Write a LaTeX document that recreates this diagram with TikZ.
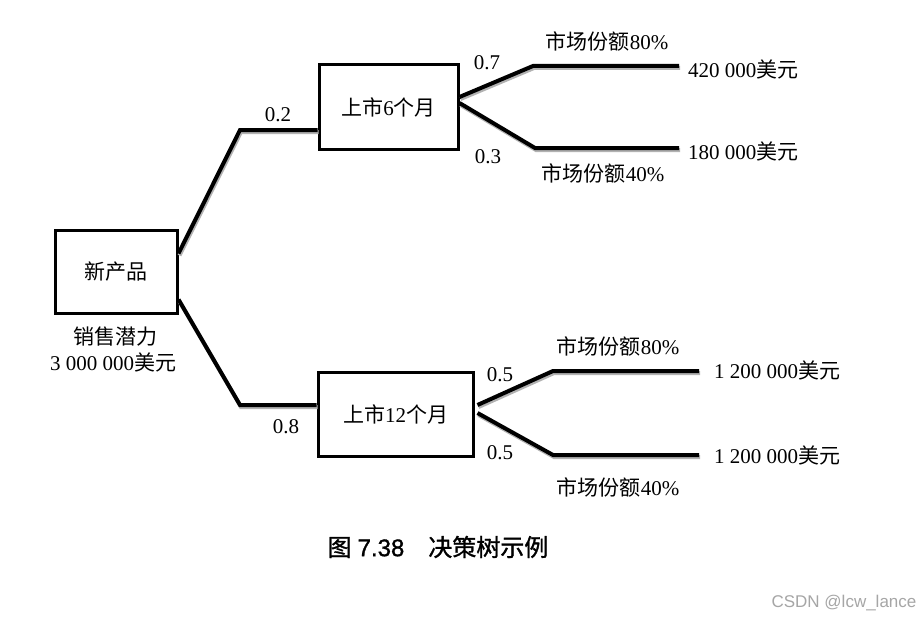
\documentclass[tikz,border=0pt]{standalone}
\usepackage{fontspec}
\setmainfont{Liberation Serif}
\newfontfamily\cjk{Noto Sans CJK SC}
\newfontfamily\cjkcap[FakeBold=1.2]{Noto Sans CJK SC}
\newfontfamily\capsans[FakeBold=1.2]{Liberation Sans}
\newfontfamily\wmsans{Liberation Sans}
\tikzset{
  box/.style={draw, line width=3pt, inner sep=0pt},
  conn/.style={line width=4pt, line join=miter},
  shade/.style={line width=4pt, draw=black!30, line join=miter},
  lbl/.style={inner sep=0pt, font=\fontsize{21}{24}\selectfont},
}
\begin{document}
\begin{tikzpicture}[x=1pt,y=-1pt]
\useasboundingbox[fill=white] (0,0) rectangle (919,618);
% boxes
\node[box, minimum width=122pt, minimum height=83pt, lbl] (n0) at (116,271.5) {\cjk 新产品};
\node[box, minimum width=139pt, minimum height=84pt, lbl] (n1) at (388.5,107) {{\cjk 上市}6{\cjk 个月}};
\node[box, minimum width=155pt, minimum height=84pt, lbl] (n2) at (395.5,414) {{\cjk 上市}12{\cjk 个月}};
% bends and ends
\coordinate (b1) at (240,130);
\coordinate (b2) at (240,405);
\coordinate (c1) at (533,66);
\coordinate (e1) at (679,66);
\coordinate (c2) at (535,148);
\coordinate (e2) at (679,148);
\coordinate (c3) at (553,371);
\coordinate (e3) at (699,371);
\coordinate (c4) at (553,455);
\coordinate (e4) at (699,455);
% shadows
\begin{scope}[transform canvas={xshift=1pt,yshift=-2pt}]
\draw[shade] ([yshift=18pt]n0.east) -- (b1) -- (n1.west |- b1);
\draw[shade] ([yshift=-28pt]n0.east) -- (b2) -- (n2.west |- b2);
\draw[shade] ([yshift=10pt]n1.east) -- (c1) -- (e1);
\draw[shade] ([yshift=4pt]n1.east) -- (c2) -- (e2);
\draw[shade] ([xshift=3pt,yshift=9pt]n2.east) -- (c3) -- (e3);
\draw[shade] ([xshift=3pt,yshift=1pt]n2.east) -- (c4) -- (e4);
\end{scope}
% connectors
\draw[conn] ([yshift=18pt]n0.east) -- (b1) -- (n1.west |- b1);
\draw[conn] ([yshift=-28pt]n0.east) -- (b2) -- (n2.west |- b2);
\draw[conn] ([yshift=10pt]n1.east) -- (c1) -- (e1);
\draw[conn] ([yshift=4pt]n1.east) -- (c2) -- (e2);
\draw[conn] ([xshift=3pt,yshift=9pt]n2.east) -- (c3) -- (e3);
\draw[conn] ([xshift=3pt,yshift=1pt]n2.east) -- (c4) -- (e4);
% probabilities
\node[lbl] (p1) at (278,115) {0.2};
\node[lbl] (p2) at (286,427) {0.8};
\node[lbl] (p3) at (487,63) {0.7};
\node[lbl] (p4) at (488,157) {0.3};
\node[lbl] (p5) at (500,375) {0.5};
\node[lbl] (p6) at (500,453) {0.5};
% share labels
\node[lbl] (s1) at (607,41) {{\cjk 市场份额}80\%};
\node[lbl] (s2) at (603,173) {{\cjk 市场份额}40\%};
\node[lbl] (s3) at (618,346) {{\cjk 市场份额}80\%};
\node[lbl] (s4) at (618,487) {{\cjk 市场份额}40\%};
% values
\node[lbl, anchor=west] (v1) at (688,69) {420 000{\cjk 美元}};
\node[lbl, anchor=west] (v2) at (688,151) {180 000{\cjk 美元}};
\node[lbl, anchor=west] (v3) at (714,370) {1 200 000{\cjk 美元}};
\node[lbl, anchor=west] (v4) at (714,455) {1 200 000{\cjk 美元}};
% potential
\node[lbl] (pot1) at (115,337) {\cjk 销售潜力};
\node[lbl] (pot2) at (113,362) {3 000 000{\cjk 美元}};
% caption
\node[inner sep=0pt, font=\fontsize{24}{28}\selectfont] (cap) at (438,547) {{\cjkcap 图} {\capsans 7.38}\hspace{1em}{\cjkcap 决策树示例}};
% watermark
\node[inner sep=0pt, text=black!35, font=\wmsans\fontsize{17}{20}\selectfont] (wm) at (844,603) {CSDN @lcw\_lance};
\end{tikzpicture}
\end{document}
